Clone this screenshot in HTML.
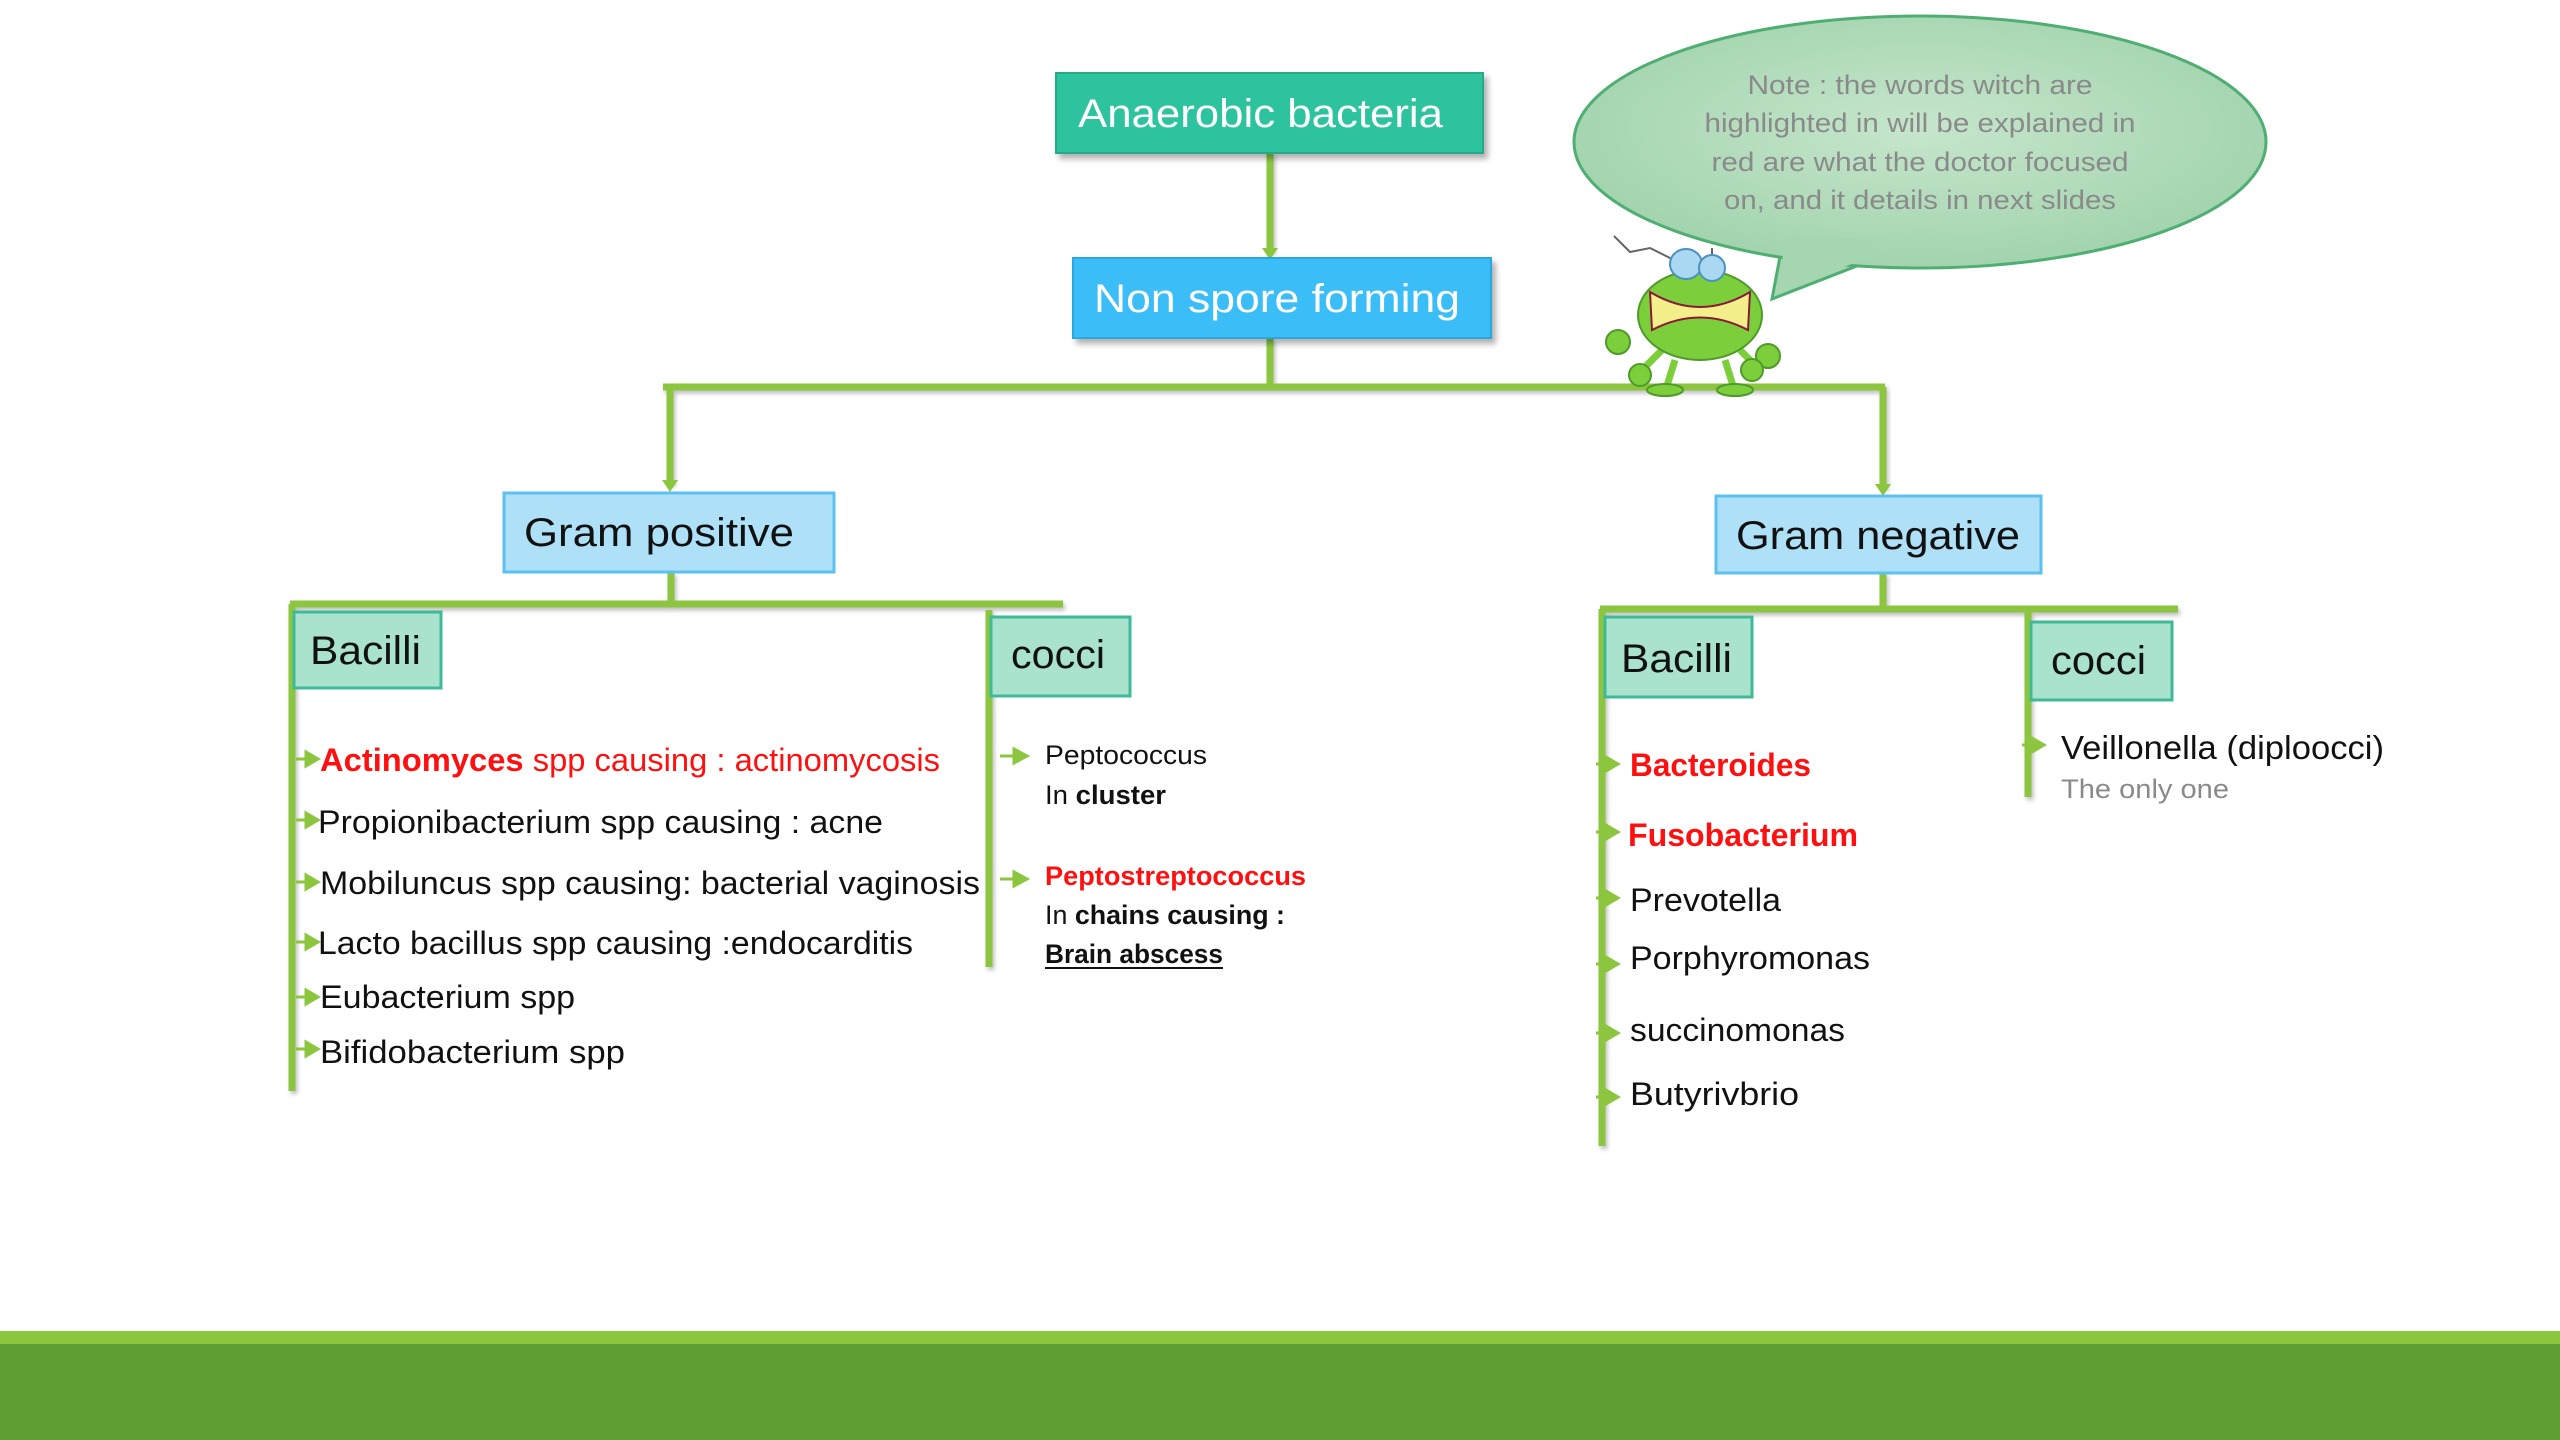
<!DOCTYPE html>
<html><head><meta charset="utf-8"><style>
html,body{margin:0;padding:0;background:#fff;}
svg{display:block;}
text{font-family:"Liberation Sans",sans-serif;}
</style></head><body>
<svg width="2560" height="1440" viewBox="0 0 2560 1440" xmlns="http://www.w3.org/2000/svg">
<defs>
<filter id="sh" x="-10%" y="-10%" width="130%" height="140%"><feDropShadow dx="4" dy="5" stdDeviation="3" flood-color="#000" flood-opacity="0.3"/></filter>
<filter id="ls" x="-5%" y="-50%" width="110%" height="300%"><feDropShadow dx="2" dy="3" stdDeviation="2" flood-color="#000" flood-opacity="0.25"/></filter>
<radialGradient id="bub" cx="0.5" cy="0.45" r="0.6"><stop offset="0" stop-color="#c6e6cc"/><stop offset="1" stop-color="#9fd2ab"/></radialGradient>
</defs>
<rect width="2560" height="1440" fill="#fff"/>

<!-- connectors -->
<g stroke="#8cc63f" stroke-width="7" fill="none" filter="url(#ls)">
<line x1="1270" y1="153" x2="1270" y2="252"/>
<line x1="1270" y1="338" x2="1270" y2="387"/>
<line x1="663" y1="387" x2="1885" y2="387"/>
<line x1="670" y1="387" x2="670" y2="484"/>
<line x1="1883" y1="387" x2="1883" y2="488"/>
<line x1="671" y1="572" x2="671" y2="604"/>
<line x1="290" y1="604" x2="1063" y2="604"/>
<line x1="292" y1="604" x2="292" y2="1091"/>
<line x1="989" y1="610" x2="989" y2="967"/>
<line x1="1883" y1="573" x2="1883" y2="609"/>
<line x1="1600" y1="609" x2="2178" y2="609"/>
<line x1="1602" y1="609" x2="1602" y2="1146"/>
<line x1="2028" y1="609" x2="2028" y2="797"/>
</g>
<g fill="#8cc63f">
<polygon points="1262,248 1278,248 1270,260"/>
<polygon points="662,480 678,480 670,492"/>
<polygon points="1875,484 1891,484 1883,496"/>
</g>

<!-- speech bubble -->
<polygon points="1785,230 1772,299 1885,255" fill="#a6d5b1" stroke="#4fae72" stroke-width="3"/>
<ellipse cx="1920" cy="142" rx="346" ry="126" fill="url(#bub)" stroke="#4fae72" stroke-width="3"/>
<polygon points="1787,236 1776,290 1878,255 1870,240" fill="#a6d5b1"/>
<g fill="#8a8a8a" font-size="27" text-anchor="middle">
<text x="1920" y="94" textLength="345" lengthAdjust="spacingAndGlyphs">Note : the words witch are</text>
<text x="1920" y="132" textLength="431" lengthAdjust="spacingAndGlyphs">highlighted in will be explained in</text>
<text x="1920" y="171" textLength="417" lengthAdjust="spacingAndGlyphs">red are what the doctor focused</text>
<text x="1920" y="209" textLength="392" lengthAdjust="spacingAndGlyphs">on, and it details in next slides</text>
</g>

<!-- bug -->
<g stroke="#4e9a2a" stroke-width="2">
<polyline points="1614,236 1630,252 1650,248 1678,262" fill="none" stroke="#666"/>
<line x1="1712" y1="248" x2="1712" y2="262" stroke="#666"/>
<path d="M1662,350 L1640,372 M1740,350 L1760,370 M1675,360 L1665,392 M1725,360 L1735,392" stroke="#7ccf3a" stroke-width="7" fill="none"/>
<ellipse cx="1700" cy="315" rx="62" ry="45" fill="#7ccf3a"/>
<path d="M1650,292 Q1700,322 1750,292 L1748,330 Q1700,305 1652,330 Z" fill="#f3ef8a" stroke="#8b1a3a"/>
<ellipse cx="1686" cy="264" rx="16" ry="15" fill="#a9d8f0" stroke="#4a90c0"/>
<ellipse cx="1712" cy="268" rx="13" ry="13" fill="#a9d8f0" stroke="#4a90c0"/>
<circle cx="1618" cy="342" r="12" fill="#7ccf3a"/>
<circle cx="1768" cy="356" r="12" fill="#7ccf3a"/>
<circle cx="1640" cy="375" r="11" fill="#7ccf3a"/>
<circle cx="1752" cy="370" r="11" fill="#7ccf3a"/>
<ellipse cx="1665" cy="390" rx="18" ry="6" fill="#7ccf3a"/>
<ellipse cx="1735" cy="390" rx="18" ry="6" fill="#7ccf3a"/>
</g>

<!-- top boxes -->
<rect x="1056" y="73" width="427" height="80" fill="#2ec39f" stroke="#27a987" stroke-width="2" filter="url(#sh)"/>
<text x="1078" y="127" font-size="40" fill="#fff" textLength="365" lengthAdjust="spacingAndGlyphs">Anaerobic bacteria</text>
<rect x="1073" y="258" width="418" height="80" fill="#3bbef8" stroke="#2aa6e0" stroke-width="2" filter="url(#sh)"/>
<text x="1094" y="312" font-size="40" fill="#fff" textLength="366" lengthAdjust="spacingAndGlyphs">Non spore forming</text>

<rect x="504" y="493" width="330" height="79" fill="#aee0f8" stroke="#5cc0f0" stroke-width="3"/>
<text x="524" y="546" font-size="40" fill="#111" textLength="270" lengthAdjust="spacingAndGlyphs">Gram positive</text>
<rect x="1716" y="496" width="325" height="77" fill="#aee0f8" stroke="#5cc0f0" stroke-width="3"/>
<text x="1736" y="549" font-size="40" fill="#111" textLength="284" lengthAdjust="spacingAndGlyphs">Gram negative</text>

<g fill="#a9e2cd" stroke="#3fba98" stroke-width="3">
<rect x="294" y="612" width="147" height="76"/>
<rect x="991" y="617" width="139" height="79"/>
<rect x="1605" y="617" width="147" height="80"/>
<rect x="2031" y="622" width="141" height="78"/>
</g>
<g font-size="40" fill="#111">
<text x="310" y="664" textLength="111" lengthAdjust="spacingAndGlyphs">Bacilli</text>
<text x="1011" y="668" textLength="94" lengthAdjust="spacingAndGlyphs">cocci</text>
<text x="1621" y="672" textLength="111" lengthAdjust="spacingAndGlyphs">Bacilli</text>
<text x="2051" y="674" textLength="95" lengthAdjust="spacingAndGlyphs">cocci</text>
</g>

<!-- bullet arrows -->
<g fill="#8cc63f" stroke="#8cc63f" stroke-width="3">
<line x1="296" y1="759" x2="308" y2="759"/><polygon points="306,752 318,759 306,766"/>
<line x1="296" y1="820" x2="308" y2="820"/><polygon points="306,813 318,820 306,827"/>
<line x1="296" y1="882" x2="308" y2="882"/><polygon points="306,875 318,882 306,889"/>
<line x1="296" y1="942" x2="308" y2="942"/><polygon points="306,935 318,942 306,949"/>
<line x1="296" y1="997" x2="308" y2="997"/><polygon points="306,990 318,997 306,1004"/>
<line x1="296" y1="1049" x2="308" y2="1049"/><polygon points="306,1042 318,1049 306,1056"/>
<line x1="1000" y1="756" x2="1016" y2="756"/><polygon points="1014,749 1027,756 1014,763"/>
<line x1="1000" y1="879" x2="1016" y2="879"/><polygon points="1014,872 1027,879 1014,886"/>
<line x1="1596" y1="764" x2="1608" y2="764"/><polygon points="1606,757 1618,764 1606,771"/>
<line x1="1596" y1="832" x2="1608" y2="832"/><polygon points="1606,825 1618,832 1606,839"/>
<line x1="1596" y1="898" x2="1608" y2="898"/><polygon points="1606,891 1618,898 1606,905"/>
<line x1="1596" y1="964" x2="1608" y2="964"/><polygon points="1606,957 1618,964 1606,971"/>
<line x1="1596" y1="1033" x2="1608" y2="1033"/><polygon points="1606,1026 1618,1033 1606,1040"/>
<line x1="1596" y1="1097" x2="1608" y2="1097"/><polygon points="1606,1090 1618,1097 1606,1104"/>
<line x1="2022" y1="745" x2="2034" y2="745"/><polygon points="2032,738 2044,745 2032,752"/>
</g>

<!-- left bacilli items -->
<g font-size="32" fill="#111">
<text x="320" y="771" fill="#ff1010" textLength="620" lengthAdjust="spacingAndGlyphs"><tspan font-weight="bold">Actinomyces</tspan> spp causing : actinomycosis</text>
<text x="318" y="833" textLength="565" lengthAdjust="spacingAndGlyphs">Propionibacterium spp causing : acne</text>
<text x="320" y="894" textLength="660" lengthAdjust="spacingAndGlyphs">Mobiluncus spp causing: bacterial vaginosis</text>
<text x="318" y="954" textLength="595" lengthAdjust="spacingAndGlyphs">Lacto bacillus spp causing :endocarditis</text>
<text x="320" y="1008" textLength="255" lengthAdjust="spacingAndGlyphs">Eubacterium spp</text>
<text x="320" y="1063" textLength="305" lengthAdjust="spacingAndGlyphs">Bifidobacterium spp</text>
</g>

<!-- left cocci items -->
<g font-size="27" fill="#111">
<text x="1045" y="764" textLength="162" lengthAdjust="spacingAndGlyphs">Peptococcus</text>
<text x="1045" y="804" textLength="121" lengthAdjust="spacingAndGlyphs">In <tspan font-weight="bold">cluster</tspan></text>
<text x="1045" y="885" fill="#ff1010" font-weight="bold" textLength="261" lengthAdjust="spacingAndGlyphs">Peptostreptococcus</text>
<text x="1045" y="924" textLength="240" lengthAdjust="spacingAndGlyphs">In <tspan font-weight="bold">chains causing :</tspan></text>
<text x="1045" y="963" font-weight="bold" textLength="178" lengthAdjust="spacingAndGlyphs">Brain abscess</text>
</g>
<line x1="1045" y1="968" x2="1223" y2="968" stroke="#111" stroke-width="2"/>

<!-- right bacilli items -->
<g font-size="32" fill="#111">
<text x="1630" y="776" fill="#ff1010" font-weight="bold" textLength="181" lengthAdjust="spacingAndGlyphs">Bacteroides</text>
<text x="1628" y="846" fill="#ff1010" font-weight="bold" textLength="230" lengthAdjust="spacingAndGlyphs">Fusobacterium</text>
<text x="1630" y="911" textLength="151" lengthAdjust="spacingAndGlyphs">Prevotella</text>
<text x="1630" y="969" textLength="240" lengthAdjust="spacingAndGlyphs">Porphyromonas</text>
<text x="1630" y="1041" textLength="215" lengthAdjust="spacingAndGlyphs">succinomonas</text>
<text x="1630" y="1105" textLength="169" lengthAdjust="spacingAndGlyphs">Butyrivbrio</text>
</g>
<text x="2061" y="759" font-size="33" fill="#111" textLength="323" lengthAdjust="spacingAndGlyphs">Veillonella (diploocci)</text>
<text x="2061" y="798" font-size="27" fill="#8a8a8a" textLength="168" lengthAdjust="spacingAndGlyphs">The only one</text>

<!-- footer -->
<rect x="0" y="1331" width="2560" height="13" fill="#8cc63f"/>
<rect x="0" y="1344" width="2560" height="96" fill="#5f9e35"/>
</svg>
</body></html>
